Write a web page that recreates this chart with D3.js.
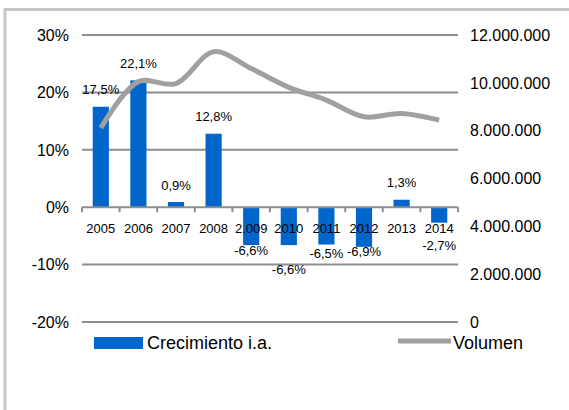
<!DOCTYPE html>
<html>
<head>
<meta charset="utf-8">
<script src="https://cdn.jsdelivr.net/npm/d3@7"></script>
<style>
  html, body { margin: 0; padding: 0; background: #fff; }
  svg { display: block; font-family: "Liberation Sans", Arial, sans-serif; }
</style>
</head>
<body>
<div id="chart"></div>
<script>
// años, crecimiento interanual (%) y volumen
const years = ["2005", "2006", "2007", "2008", "2.009", "2010", "2011", "2012", "2013", "2014"];
const growth = [17.5, 22.1, 0.9, 12.8, -6.6, -6.6, -6.5, -6.9, 1.3, -2.7];
const growthLabels = ["17,5%", "22,1%", "0,9%", "12,8%", "-6,6%", "-6,6%", "-6,5%", "-6,9%", "1,3%", "-2,7%"];
const volume = [8110000, 10050000, 9970000, 11300000, 10600000, 9810000, 9280000, 8580000, 8720000, 8440000];
const leftTicks = [-20, -10, 0, 10, 20, 30];
const rightTicks = [0, 2000000, 4000000, 6000000, 8000000, 10000000, 12000000];

// label vertical offsets (layout, px from bar end)
const labelDy = [-17, -17, -17, -17, 5, 24, 9, 5, -17, 23];

const W = 569, H = 410;
const plot = { left: 82, right: 458, top: 35, bottom: 322 };

const svg = d3.select("#chart").append("svg").attr("width", W).attr("height", H);

// outer frame
svg.append("rect")
  .attr("x", 5).attr("y", 9.5).attr("width", 700).attr("height", 600)
  .attr("fill", "none").attr("stroke", "#c6c6c6").attr("stroke-width", 3);

const x = d3.scaleBand().domain(years).range([plot.left, plot.right]).paddingInner(0.57).paddingOuter(0.285);
const xb = d3.scaleBand().domain(years).range([plot.left, plot.right]);
const yL = d3.scaleLinear().domain([-20, 30]).range([plot.bottom, plot.top]);
const yR = d3.scaleLinear().domain([0, 12000000]).range([plot.bottom, plot.top]);

// gridlines
svg.append("g").selectAll("line").data(leftTicks.filter(d => d !== 0)).join("line")
  .attr("x1", plot.left).attr("x2", plot.right)
  .attr("y1", d => yL(d)).attr("y2", d => yL(d))
  .attr("stroke", "#8e8e8e").attr("stroke-width", 2);

// left axis labels
svg.append("g").selectAll("text").data(leftTicks).join("text")
  .attr("x", 69).attr("y", d => yL(d)).attr("dy", "0.36em")
  .attr("text-anchor", "end").attr("font-size", 16).attr("fill", "#000")
  .text(d => d + "%");

// right axis labels
const fmt = d => d3.format(",")(d).replace(/,/g, ".");
svg.append("g").selectAll("text").data(rightTicks).join("text")
  .attr("x", 470).attr("y", d => yR(d)).attr("dy", "0.36em")
  .attr("text-anchor", "start").attr("font-size", 16).attr("fill", "#000")
  .text(fmt);

// bars
svg.append("g").selectAll("rect").data(growth).join("rect")
  .attr("x", (d, i) => x(years[i]))
  .attr("width", x.bandwidth())
  .attr("y", d => yL(Math.max(0, d)))
  .attr("height", d => Math.abs(yL(d) - yL(0)))
  .attr("fill", "#0066cc");

// x axis line + ticks
const xAxis = svg.append("g");
xAxis.append("line")
  .attr("x1", plot.left).attr("x2", plot.right)
  .attr("y1", yL(0)).attr("y2", yL(0))
  .attr("stroke", "#8e8e8e").attr("stroke-width", 2);
xAxis.selectAll("line.tick").data(years.concat(["end"])).join("line")
  .attr("class", "tick")
  .attr("x1", (d, i) => i < years.length ? xb(d) : plot.right)
  .attr("x2", (d, i) => i < years.length ? xb(d) : plot.right)
  .attr("y1", yL(0)).attr("y2", yL(0) + 5)
  .attr("stroke", "#8e8e8e").attr("stroke-width", 2);

// category labels
svg.append("g").selectAll("text").data(years).join("text")
  .attr("x", d => xb(d) + xb.bandwidth() / 2)
  .attr("y", yL(0) + 21).attr("dy", "0.36em")
  .attr("text-anchor", "middle").attr("font-size", 13).attr("fill", "#000")
  .text(d => d);

// volume line
const line = d3.line()
  .x((d, i) => xb(years[i]) + xb.bandwidth() / 2)
  .y(d => yR(d))
  .curve(d3.curveCatmullRom.alpha(0.5));
svg.append("path").datum(volume)
  .attr("d", line)
  .attr("fill", "none").attr("stroke", "#a0a0a0").attr("stroke-width", 5)
  .attr("stroke-linejoin", "round");

// data labels
svg.append("g").selectAll("text").data(growth).join("text")
  .attr("x", (d, i) => xb(years[i]) + xb.bandwidth() / 2)
  .attr("y", (d, i) => yL(d) + labelDy[i]).attr("dy", "0.36em")
  .attr("text-anchor", "middle").attr("font-size", 13).attr("fill", "#000")
  .text((d, i) => growthLabels[i]);

// legend
const leg = svg.append("g");
leg.append("rect").attr("x", 94).attr("y", 337).attr("width", 49).attr("height", 12).attr("fill", "#0066cc");
leg.append("text").attr("x", 147).attr("y", 343).attr("dy", "0.36em")
  .attr("font-size", 18).attr("fill", "#000").text("Crecimiento i.a.");
leg.append("line").attr("x1", 398).attr("x2", 451).attr("y1", 341).attr("y2", 341)
  .attr("stroke", "#a0a0a0").attr("stroke-width", 5);
leg.append("text").attr("x", 453).attr("y", 343).attr("dy", "0.36em")
  .attr("font-size", 18).attr("fill", "#000").text("Volumen");
</script>
</body>
</html>
